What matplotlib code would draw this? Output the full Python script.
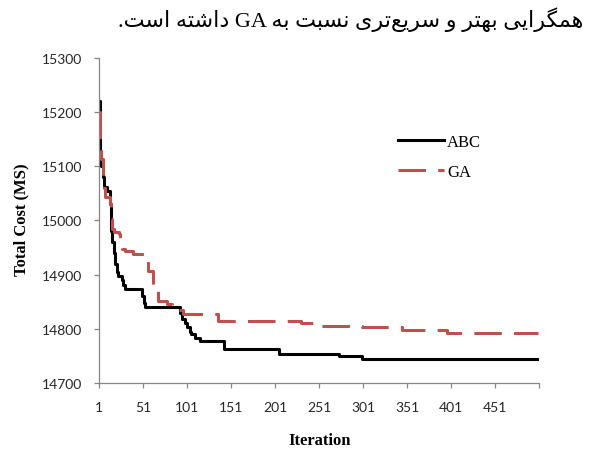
import matplotlib
matplotlib.use("Agg")
import matplotlib.pyplot as plt

# caption line above the chart (Persian)
caption = "همگرایی بهتر و سریع\u200cتری نسبت به GA داشته است."

# convergence curves (iteration where the value starts, cost)
abc_iter = [1, 2, 3, 5, 7, 10, 13, 14, 15, 16, 18, 19, 21, 23, 27, 28, 30, 50, 52, 53,
            93, 95, 99, 101, 104, 106, 110, 116, 143, 206, 274, 300, 500]
abc_cost = [15220, 15120, 15100, 15080, 15062, 15055, 15050, 15030, 14980, 14960, 14940, 14920,
            14905, 14898, 14890, 14880, 14874, 14860, 14848, 14840,
            14830, 14818, 14810, 14803, 14795, 14790, 14783, 14777, 14763, 14754, 14749, 14744, 14744]

ga_iter = [1, 2, 3, 5, 7, 8, 14, 15, 16, 18, 24, 25, 27, 30, 40, 55, 57, 62, 68, 78, 84,
           90, 96, 136, 230, 245, 300, 345, 397, 500]
ga_cost = [15200, 15140, 15113, 15082, 15060, 15043, 15030, 15003, 14985, 14979, 14975, 14960,
           14947, 14944, 14938, 14934, 14907, 14879, 14852, 14845, 14840,
           14835, 14827, 14815, 14810, 14806, 14803, 14797, 14792, 14792]

x_ticks = [1, 51, 101, 151, 201, 251, 301, 351, 401, 451, 501]
x_labels = ["1", "51", "101", "151", "201", "251", "301", "351", "401", "451", ""]
y_ticks = [14700, 14800, 14900, 15000, 15100, 15200, 15300]

# minimal arabic shaping: (isolated, final, initial, medial)
FORMS = {
    'ا': ('\uFE8D', '\uFE8E', None, None),
    'ب': ('\uFE8F', '\uFE90', '\uFE91', '\uFE92'),
    'ت': ('\uFE95', '\uFE96', '\uFE97', '\uFE98'),
    'د': ('\uFEA9', '\uFEAA', None, None),
    'ر': ('\uFEAD', '\uFEAE', None, None),
    'س': ('\uFEB1', '\uFEB2', '\uFEB3', '\uFEB4'),
    'ش': ('\uFEB5', '\uFEB6', '\uFEB7', '\uFEB8'),
    'ع': ('\uFEC9', '\uFECA', '\uFECB', '\uFECC'),
    'گ': ('\uFB92', '\uFB93', '\uFB94', '\uFB95'),
    'م': ('\uFEE1', '\uFEE2', '\uFEE3', '\uFEE4'),
    'ن': ('\uFEE5', '\uFEE6', '\uFEE7', '\uFEE8'),
    'ه': ('\uFEE9', '\uFEEA', '\uFEEB', '\uFEEC'),
    'و': ('\uFEED', '\uFEEE', None, None),
    'ی': ('\uFEEF', '\uFEF0', '\uFEF3', '\uFEF4'),
}


def shape_word(w):
    out = []
    for i, c in enumerate(w):
        if c not in FORMS:
            if c != '\u200c':
                out.append(c)
            continue
        prev = w[i - 1] if i > 0 else ''
        nxt = w[i + 1] if i + 1 < len(w) else ''
        jp = prev in FORMS and FORMS[prev][2] is not None
        jn = nxt in FORMS and FORMS[c][2] is not None
        idx = 3 if (jp and jn) else 1 if jp else 2 if jn else 0
        out.append(FORMS[c][idx])
    return ''.join(out[::-1])


def visual_rtl(text):
    words = []
    for w in text.split(' ')[::-1]:
        words.append(w if w.isascii() else shape_word(w))
    return ' '.join(words)


fig = plt.figure(figsize=(5.99, 4.52), dpi=100)
ax = fig.add_axes([99 / 599, 68 / 452, 440 / 599, 325 / 452])

RED = '#C0504D'
ax.plot(abc_iter, abc_cost, color='black', lw=2.2, drawstyle='steps-post', label='ABC')
ax.plot(ga_iter, ga_cost, color=RED, lw=2.2, drawstyle='steps-post', dashes=(9, 4), label='GA')

ax.set_xlim(1, 501)
ax.set_ylim(14700, 15300)
ax.set_xticks(x_ticks)
ax.set_xticklabels(x_labels)
ax.set_yticks(y_ticks)

for s in ['top', 'right']:
    ax.spines[s].set_visible(False)
for s in ['left', 'bottom']:
    ax.spines[s].set_color('#868686')
    ax.spines[s].set_linewidth(0.9)

ax.tick_params(axis='both', direction='out', length=3.6, width=0.9, color='#868686',
               labelsize=10, labelcolor='#262626')
ax.tick_params(axis='y', pad=8.5)
ax.tick_params(axis='x', pad=9.5)
for lab in ax.get_xticklabels() + ax.get_yticklabels():
    lab.set_fontfamily('Lato')

ax.set_ylabel('Total Cost (MS)', fontsize=12, fontweight='bold', family='Liberation Serif')
ax.yaxis.set_label_coords(-70 / 440, (384 - 220) / 325)
ax.set_xlabel('Iteration', fontsize=12, fontweight='bold', family='Liberation Serif')
ax.xaxis.set_label_coords((320 - 99) / 440, -(433 - 384) / 325)

ax.legend(loc='upper left', bbox_to_anchor=(398 / 599, 1 - 135 / 452), bbox_transform=fig.transFigure,
          frameon=False, borderpad=0, borderaxespad=0, handlelength=2.75, handletextpad=0.2,
          labelspacing=0.82, prop={'family': 'Liberation Serif', 'size': 12})

fig.text(583 / 599, 1 - 20 / 452, visual_rtl(caption), ha='right', va='center', fontsize=16,
         family=['Liberation Serif', 'DejaVu Sans'])

fig.savefig('out.png', dpi=100)
